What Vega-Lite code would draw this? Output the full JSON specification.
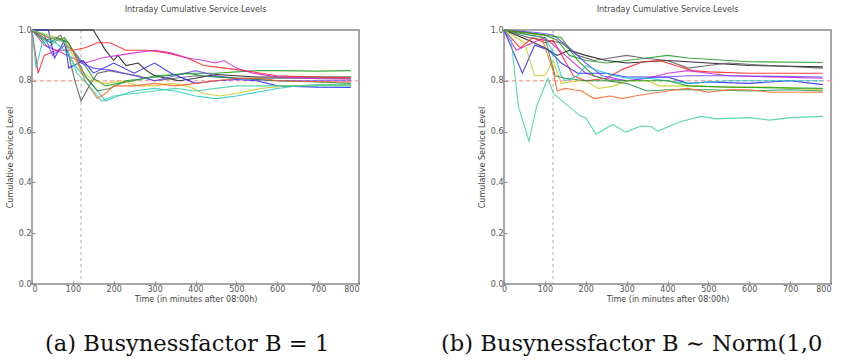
{
"$schema":"https://vega.github.io/schema/vega-lite/v6.json",
"padding":{"left":5,"top":5,"right":0,"bottom":0},
"background":"white",
"config":{
 "font":"DejaVu Sans",
 "view":{"stroke":"#8a8a8a","strokeWidth":1.5},
 "axis":{"grid":false,"domain":false,"labelFontSize":8,"titleFontSize":8,"titleFontWeight":"normal","labelColor":"#555","titleColor":"#444","tickColor":"#888","tickSize":-3,"labelPadding":4},
 "concat":{"spacing":80}
},
"datasets":{
"a":[
{"s":"a1","x":0,"y":1.0},{"s":"a1","x":20,"y":0.97},{"s":"a1","x":40,"y":0.93},{"s":"a1","x":60,"y":0.96},{"s":"a1","x":80,"y":0.97},{"s":"a1","x":100,"y":0.92},{"s":"a1","x":130,"y":0.86},{"s":"a1","x":150,"y":0.81},{"s":"a1","x":180,"y":0.78},{"s":"a1","x":210,"y":0.79},{"s":"a1","x":250,"y":0.8},{"s":"a1","x":300,"y":0.82},{"s":"a1","x":350,"y":0.825},{"s":"a1","x":400,"y":0.83},{"s":"a1","x":450,"y":0.83},{"s":"a1","x":500,"y":0.835},{"s":"a1","x":550,"y":0.84},{"s":"a1","x":600,"y":0.84},{"s":"a1","x":700,"y":0.838},{"s":"a1","x":780,"y":0.84},
{"s":"a2","x":0,"y":1.0},{"s":"a2","x":150,"y":1.0},{"s":"a2","x":180,"y":0.92},{"s":"a2","x":200,"y":0.88},{"s":"a2","x":210,"y":0.9},{"s":"a2","x":230,"y":0.86},{"s":"a2","x":260,"y":0.87},{"s":"a2","x":280,"y":0.84},{"s":"a2","x":300,"y":0.82},{"s":"a2","x":330,"y":0.81},{"s":"a2","x":360,"y":0.8},{"s":"a2","x":400,"y":0.81},{"s":"a2","x":450,"y":0.825},{"s":"a2","x":500,"y":0.82},{"s":"a2","x":550,"y":0.815},{"s":"a2","x":600,"y":0.815},{"s":"a2","x":700,"y":0.815},{"s":"a2","x":780,"y":0.815},
{"s":"a3","x":0,"y":1.0},{"s":"a3","x":20,"y":0.98},{"s":"a3","x":45,"y":0.95},{"s":"a3","x":70,"y":0.98},{"s":"a3","x":90,"y":0.9},{"s":"a3","x":105,"y":0.8},{"s":"a3","x":120,"y":0.72},{"s":"a3","x":140,"y":0.78},{"s":"a3","x":160,"y":0.83},{"s":"a3","x":190,"y":0.84},{"s":"a3","x":220,"y":0.83},{"s":"a3","x":260,"y":0.82},{"s":"a3","x":300,"y":0.8},{"s":"a3","x":350,"y":0.81},{"s":"a3","x":400,"y":0.82},{"s":"a3","x":500,"y":0.81},{"s":"a3","x":780,"y":0.81},
{"s":"a4","x":0,"y":1.0},{"s":"a4","x":15,"y":0.83},{"s":"a4","x":30,"y":0.9},{"s":"a4","x":60,"y":0.92},{"s":"a4","x":100,"y":0.92},{"s":"a4","x":130,"y":0.93},{"s":"a4","x":160,"y":0.95},{"s":"a4","x":190,"y":0.95},{"s":"a4","x":230,"y":0.92},{"s":"a4","x":280,"y":0.92},{"s":"a4","x":330,"y":0.91},{"s":"a4","x":380,"y":0.89},{"s":"a4","x":420,"y":0.86},{"s":"a4","x":470,"y":0.85},{"s":"a4","x":520,"y":0.84},{"s":"a4","x":560,"y":0.83},{"s":"a4","x":600,"y":0.82},{"s":"a4","x":700,"y":0.815},{"s":"a4","x":780,"y":0.812},
{"s":"a5","x":0,"y":1.0},{"s":"a5","x":30,"y":0.94},{"s":"a5","x":60,"y":0.92},{"s":"a5","x":100,"y":0.89},{"s":"a5","x":130,"y":0.87},{"s":"a5","x":170,"y":0.89},{"s":"a5","x":210,"y":0.9},{"s":"a5","x":250,"y":0.91},{"s":"a5","x":300,"y":0.92},{"s":"a5","x":340,"y":0.91},{"s":"a5","x":380,"y":0.89},{"s":"a5","x":420,"y":0.88},{"s":"a5","x":450,"y":0.87},{"s":"a5","x":470,"y":0.88},{"s":"a5","x":500,"y":0.85},{"s":"a5","x":540,"y":0.83},{"s":"a5","x":600,"y":0.815},{"s":"a5","x":700,"y":0.808},{"s":"a5","x":780,"y":0.806},
{"s":"a6","x":0,"y":1.0},{"s":"a6","x":40,"y":1.0},{"s":"a6","x":55,"y":0.89},{"s":"a6","x":80,"y":0.96},{"s":"a6","x":90,"y":0.85},{"s":"a6","x":125,"y":0.88},{"s":"a6","x":150,"y":0.83},{"s":"a6","x":200,"y":0.87},{"s":"a6","x":250,"y":0.83},{"s":"a6","x":300,"y":0.87},{"s":"a6","x":340,"y":0.83},{"s":"a6","x":400,"y":0.79},{"s":"a6","x":450,"y":0.8},{"s":"a6","x":500,"y":0.805},{"s":"a6","x":550,"y":0.8},{"s":"a6","x":600,"y":0.78},{"s":"a6","x":700,"y":0.775},{"s":"a6","x":780,"y":0.774},
{"s":"a7","x":0,"y":1.0},{"s":"a7","x":30,"y":0.98},{"s":"a7","x":50,"y":0.9},{"s":"a7","x":80,"y":0.94},{"s":"a7","x":100,"y":0.92},{"s":"a7","x":120,"y":0.87},{"s":"a7","x":150,"y":0.85},{"s":"a7","x":200,"y":0.84},{"s":"a7","x":250,"y":0.82},{"s":"a7","x":300,"y":0.8},{"s":"a7","x":350,"y":0.82},{"s":"a7","x":400,"y":0.84},{"s":"a7","x":450,"y":0.82},{"s":"a7","x":500,"y":0.81},{"s":"a7","x":550,"y":0.805},{"s":"a7","x":600,"y":0.8},{"s":"a7","x":780,"y":0.8},
{"s":"a8","x":0,"y":1.0},{"s":"a8","x":10,"y":0.85},{"s":"a8","x":25,"y":0.95},{"s":"a8","x":50,"y":0.96},{"s":"a8","x":80,"y":0.92},{"s":"a8","x":110,"y":0.85},{"s":"a8","x":150,"y":0.78},{"s":"a8","x":180,"y":0.72},{"s":"a8","x":210,"y":0.74},{"s":"a8","x":250,"y":0.76},{"s":"a8","x":300,"y":0.77},{"s":"a8","x":350,"y":0.76},{"s":"a8","x":400,"y":0.74},{"s":"a8","x":450,"y":0.73},{"s":"a8","x":500,"y":0.74},{"s":"a8","x":550,"y":0.755},{"s":"a8","x":600,"y":0.77},{"s":"a8","x":650,"y":0.78},{"s":"a8","x":700,"y":0.785},{"s":"a8","x":780,"y":0.785},
{"s":"a9","x":0,"y":1.0},{"s":"a9","x":40,"y":0.98},{"s":"a9","x":80,"y":0.96},{"s":"a9","x":120,"y":0.84},{"s":"a9","x":150,"y":0.8},{"s":"a9","x":180,"y":0.79},{"s":"a9","x":220,"y":0.8},{"s":"a9","x":260,"y":0.78},{"s":"a9","x":300,"y":0.78},{"s":"a9","x":340,"y":0.79},{"s":"a9","x":380,"y":0.78},{"s":"a9","x":420,"y":0.75},{"s":"a9","x":460,"y":0.74},{"s":"a9","x":500,"y":0.75},{"s":"a9","x":560,"y":0.77},{"s":"a9","x":620,"y":0.78},{"s":"a9","x":700,"y":0.782},{"s":"a9","x":780,"y":0.783},
{"s":"a10","x":0,"y":1.0},{"s":"a10","x":30,"y":0.96},{"s":"a10","x":60,"y":0.97},{"s":"a10","x":90,"y":0.95},{"s":"a10","x":130,"y":0.82},{"s":"a10","x":160,"y":0.76},{"s":"a10","x":190,"y":0.77},{"s":"a10","x":230,"y":0.8},{"s":"a10","x":280,"y":0.81},{"s":"a10","x":330,"y":0.82},{"s":"a10","x":380,"y":0.83},{"s":"a10","x":420,"y":0.82},{"s":"a10","x":500,"y":0.81},{"s":"a10","x":600,"y":0.8},{"s":"a10","x":700,"y":0.795},{"s":"a10","x":780,"y":0.79},
{"s":"a11","x":0,"y":1.0},{"s":"a11","x":40,"y":0.97},{"s":"a11","x":70,"y":0.96},{"s":"a11","x":100,"y":0.92},{"s":"a11","x":130,"y":0.8},{"s":"a11","x":160,"y":0.73},{"s":"a11","x":180,"y":0.75},{"s":"a11","x":200,"y":0.78},{"s":"a11","x":250,"y":0.78},{"s":"a11","x":300,"y":0.79},{"s":"a11","x":350,"y":0.78},{"s":"a11","x":400,"y":0.79},{"s":"a11","x":450,"y":0.8},{"s":"a11","x":500,"y":0.81},{"s":"a11","x":560,"y":0.81},{"s":"a11","x":600,"y":0.8},{"s":"a11","x":700,"y":0.796},{"s":"a11","x":780,"y":0.795},
{"s":"a12","x":0,"y":1.0},{"s":"a12","x":80,"y":0.95},{"s":"a12","x":110,"y":0.83},{"s":"a12","x":140,"y":0.78},{"s":"a12","x":170,"y":0.72},{"s":"a12","x":200,"y":0.74},{"s":"a12","x":250,"y":0.75},{"s":"a12","x":300,"y":0.76},{"s":"a12","x":350,"y":0.77},{"s":"a12","x":400,"y":0.76},{"s":"a12","x":450,"y":0.77},{"s":"a12","x":500,"y":0.78},{"s":"a12","x":600,"y":0.78},{"s":"a12","x":780,"y":0.78}
],
"b":[
{"s":"b1","x":0,"y":1.0},{"s":"b1","x":60,"y":0.99},{"s":"b1","x":100,"y":0.98},{"s":"b1","x":130,"y":0.96},{"s":"b1","x":160,"y":0.9},{"s":"b1","x":200,"y":0.88},{"s":"b1","x":250,"y":0.87},{"s":"b1","x":300,"y":0.88},{"s":"b1","x":350,"y":0.89},{"s":"b1","x":400,"y":0.9},{"s":"b1","x":450,"y":0.89},{"s":"b1","x":500,"y":0.885},{"s":"b1","x":550,"y":0.88},{"s":"b1","x":600,"y":0.875},{"s":"b1","x":780,"y":0.872},
{"s":"b2","x":0,"y":1.0},{"s":"b2","x":60,"y":0.96},{"s":"b2","x":100,"y":0.93},{"s":"b2","x":130,"y":0.9},{"s":"b2","x":160,"y":0.92},{"s":"b2","x":200,"y":0.9},{"s":"b2","x":250,"y":0.88},{"s":"b2","x":300,"y":0.87},{"s":"b2","x":350,"y":0.875},{"s":"b2","x":400,"y":0.88},{"s":"b2","x":450,"y":0.875},{"s":"b2","x":500,"y":0.87},{"s":"b2","x":600,"y":0.86},{"s":"b2","x":780,"y":0.855},
{"s":"b3","x":0,"y":1.0},{"s":"b3","x":60,"y":0.97},{"s":"b3","x":100,"y":0.96},{"s":"b3","x":140,"y":0.95},{"s":"b3","x":180,"y":0.9},{"s":"b3","x":220,"y":0.88},{"s":"b3","x":260,"y":0.89},{"s":"b3","x":300,"y":0.9},{"s":"b3","x":340,"y":0.89},{"s":"b3","x":400,"y":0.88},{"s":"b3","x":450,"y":0.85},{"s":"b3","x":500,"y":0.86},{"s":"b3","x":550,"y":0.87},{"s":"b3","x":650,"y":0.86},{"s":"b3","x":780,"y":0.85},
{"s":"b4","x":0,"y":1.0},{"s":"b4","x":40,"y":0.93},{"s":"b4","x":70,"y":0.97},{"s":"b4","x":100,"y":0.95},{"s":"b4","x":120,"y":0.96},{"s":"b4","x":170,"y":0.82},{"s":"b4","x":200,"y":0.8},{"s":"b4","x":250,"y":0.81},{"s":"b4","x":290,"y":0.845},{"s":"b4","x":340,"y":0.875},{"s":"b4","x":380,"y":0.88},{"s":"b4","x":420,"y":0.86},{"s":"b4","x":460,"y":0.84},{"s":"b4","x":500,"y":0.835},{"s":"b4","x":600,"y":0.83},{"s":"b4","x":780,"y":0.83},
{"s":"b5","x":0,"y":1.0},{"s":"b5","x":30,"y":0.92},{"s":"b5","x":70,"y":0.95},{"s":"b5","x":100,"y":0.97},{"s":"b5","x":150,"y":0.9},{"s":"b5","x":200,"y":0.83},{"s":"b5","x":240,"y":0.81},{"s":"b5","x":300,"y":0.8},{"s":"b5","x":350,"y":0.81},{"s":"b5","x":400,"y":0.83},{"s":"b5","x":450,"y":0.84},{"s":"b5","x":500,"y":0.83},{"s":"b5","x":550,"y":0.82},{"s":"b5","x":780,"y":0.81},
{"s":"b6","x":0,"y":1.0},{"s":"b6","x":45,"y":0.83},{"s":"b6","x":75,"y":0.94},{"s":"b6","x":110,"y":0.92},{"s":"b6","x":140,"y":0.87},{"s":"b6","x":160,"y":0.85},{"s":"b6","x":180,"y":0.83},{"s":"b6","x":250,"y":0.83},{"s":"b6","x":300,"y":0.815},{"s":"b6","x":400,"y":0.815},{"s":"b6","x":450,"y":0.79},{"s":"b6","x":500,"y":0.795},{"s":"b6","x":600,"y":0.79},{"s":"b6","x":700,"y":0.8},{"s":"b6","x":780,"y":0.785},
{"s":"b7","x":0,"y":1.0},{"s":"b7","x":80,"y":0.99},{"s":"b7","x":120,"y":0.98},{"s":"b7","x":160,"y":0.93},{"s":"b7","x":200,"y":0.87},{"s":"b7","x":240,"y":0.82},{"s":"b7","x":300,"y":0.8},{"s":"b7","x":350,"y":0.81},{"s":"b7","x":450,"y":0.82},{"s":"b7","x":550,"y":0.82},{"s":"b7","x":780,"y":0.815},
{"s":"b8","x":0,"y":1.0},{"s":"b8","x":100,"y":0.97},{"s":"b8","x":125,"y":0.9},{"s":"b8","x":140,"y":0.82},{"s":"b8","x":150,"y":0.8},{"s":"b8","x":180,"y":0.82},{"s":"b8","x":200,"y":0.86},{"s":"b8","x":230,"y":0.84},{"s":"b8","x":270,"y":0.82},{"s":"b8","x":300,"y":0.81},{"s":"b8","x":350,"y":0.81},{"s":"b8","x":400,"y":0.8},{"s":"b8","x":450,"y":0.79},{"s":"b8","x":550,"y":0.8},{"s":"b8","x":780,"y":0.8},
{"s":"b9","x":0,"y":1.0},{"s":"b9","x":50,"y":0.95},{"s":"b9","x":75,"y":0.82},{"s":"b9","x":100,"y":0.82},{"s":"b9","x":120,"y":0.88},{"s":"b9","x":140,"y":0.79},{"s":"b9","x":180,"y":0.8},{"s":"b9","x":200,"y":0.8},{"s":"b9","x":230,"y":0.77},{"s":"b9","x":270,"y":0.78},{"s":"b9","x":300,"y":0.8},{"s":"b9","x":350,"y":0.8},{"s":"b9","x":380,"y":0.78},{"s":"b9","x":450,"y":0.78},{"s":"b9","x":550,"y":0.775},{"s":"b9","x":650,"y":0.775},{"s":"b9","x":780,"y":0.765},
{"s":"b10","x":0,"y":1.0},{"s":"b10","x":60,"y":0.98},{"s":"b10","x":100,"y":0.97},{"s":"b10","x":125,"y":0.82},{"s":"b10","x":150,"y":0.81},{"s":"b10","x":200,"y":0.8},{"s":"b10","x":250,"y":0.8},{"s":"b10","x":300,"y":0.79},{"s":"b10","x":350,"y":0.76},{"s":"b10","x":400,"y":0.765},{"s":"b10","x":500,"y":0.765},{"s":"b10","x":600,"y":0.76},{"s":"b10","x":700,"y":0.765},{"s":"b10","x":780,"y":0.76},
{"s":"b11","x":0,"y":1.0},{"s":"b11","x":90,"y":0.98},{"s":"b11","x":120,"y":0.84},{"s":"b11","x":130,"y":0.76},{"s":"b11","x":150,"y":0.77},{"s":"b11","x":170,"y":0.765},{"s":"b11","x":190,"y":0.76},{"s":"b11","x":220,"y":0.73},{"s":"b11","x":260,"y":0.74},{"s":"b11","x":290,"y":0.73},{"s":"b11","x":320,"y":0.74},{"s":"b11","x":360,"y":0.75},{"s":"b11","x":420,"y":0.765},{"s":"b11","x":450,"y":0.77},{"s":"b11","x":500,"y":0.755},{"s":"b11","x":550,"y":0.765},{"s":"b11","x":600,"y":0.765},{"s":"b11","x":650,"y":0.755},{"s":"b11","x":780,"y":0.755},
{"s":"b12","x":0,"y":1.0},{"s":"b12","x":17,"y":0.97},{"s":"b12","x":35,"y":0.7},{"s":"b12","x":61,"y":0.563},{"s":"b12","x":80,"y":0.7},{"s":"b12","x":107,"y":0.81},{"s":"b12","x":122,"y":0.748},{"s":"b12","x":150,"y":0.71},{"s":"b12","x":188,"y":0.66},{"s":"b12","x":200,"y":0.655},{"s":"b12","x":225,"y":0.59},{"s":"b12","x":266,"y":0.628},{"s":"b12","x":298,"y":0.598},{"s":"b12","x":335,"y":0.622},{"s":"b12","x":360,"y":0.62},{"s":"b12","x":376,"y":0.602},{"s":"b12","x":433,"y":0.64},{"s":"b12","x":482,"y":0.66},{"s":"b12","x":520,"y":0.65},{"s":"b12","x":600,"y":0.655},{"s":"b12","x":650,"y":0.645},{"s":"b12","x":700,"y":0.655},{"s":"b12","x":780,"y":0.66},
{"s":"b13","x":0,"y":1.0},{"s":"b13","x":100,"y":0.98},{"s":"b13","x":140,"y":0.97},{"s":"b13","x":180,"y":0.88},{"s":"b13","x":220,"y":0.82},{"s":"b13","x":260,"y":0.8},{"s":"b13","x":320,"y":0.8},{"s":"b13","x":400,"y":0.8},{"s":"b13","x":450,"y":0.78},{"s":"b13","x":550,"y":0.775},{"s":"b13","x":780,"y":0.77}
]
},
"hconcat":[
{
 "title":{"text":"(a) Busynessfactor B = 1","orient":"bottom","anchor":"start","font":"DejaVu Serif","fontSize":22.6,"fontWeight":"normal","color":"#111","frame":"group","offset":29,"dx":13},
 "vconcat":[{
  "width":327,"height":254,
  "title":{"text":"Intraday Cumulative Service Levels","fontSize":8,"fontWeight":"normal","color":"#444","offset":12},
  "layer":[
   {"data":{"values":[{"y":0.8}]},"mark":{"type":"rule","strokeDash":[4,3],"color":"#ff8080","strokeWidth":1},"encoding":{"y":{"field":"y","type":"quantitative","scale":{"domain":[0,1]}}}},
   {"data":{"values":[{"x":120}]},"mark":{"type":"rule","strokeDash":[3,3],"color":"#999999","strokeWidth":0.8},"encoding":{"x":{"field":"x","type":"quantitative","scale":{"domain":[0,800]}}}},
   {"data":{"name":"a"},"mark":{"type":"line","strokeWidth":1.1,"opacity":0.85},
    "encoding":{
     "x":{"field":"x","type":"quantitative","scale":{"domain":[0,800],"nice":false},"axis":{"title":"Time (in minutes after 08:00h)","values":[0,100,200,300,400,500,600,700,800],"titlePadding":2}},
     "y":{"field":"y","type":"quantitative","scale":{"domain":[0,1],"nice":false},"axis":{"title":"Cumulative Service Level","values":[0,0.2,0.4,0.6,0.8,1.0],"format":".1f","titlePadding":4}},
     "color":{"field":"s","type":"nominal","legend":null,"scale":{"domain":["a1","a2","a3","a4","a5","a6","a7","a8","a9","a10","a11","a12"],"range":["#1a9a1a","#111111","#555555","#ff2020","#d020d0","#2020ff","#6a40ff","#20c8c8","#c8c820","#208a40","#ff6020","#40d0a0"]}}
    }}
  ]
 }]
},
{
 "title":{"text":"(b) Busynessfactor B ∼ Norm(1,0","orient":"bottom","anchor":"start","font":"DejaVu Serif","fontSize":22.6,"fontWeight":"normal","color":"#111","frame":"group","offset":29,"dx":-63},
 "vconcat":[{
  "width":327,"height":254,
  "title":{"text":"Intraday Cumulative Service Levels","fontSize":8,"fontWeight":"normal","color":"#444","offset":12},
  "layer":[
   {"data":{"values":[{"y":0.8}]},"mark":{"type":"rule","strokeDash":[4,3],"color":"#ff8080","strokeWidth":1},"encoding":{"y":{"field":"y","type":"quantitative","scale":{"domain":[0,1]}}}},
   {"data":{"values":[{"x":120}]},"mark":{"type":"rule","strokeDash":[3,3],"color":"#999999","strokeWidth":0.8},"encoding":{"x":{"field":"x","type":"quantitative","scale":{"domain":[0,800]}}}},
   {"data":{"name":"b"},"mark":{"type":"line","strokeWidth":1.1,"opacity":0.85},
    "encoding":{
     "x":{"field":"x","type":"quantitative","scale":{"domain":[0,800],"nice":false},"axis":{"title":"Time (in minutes after 08:00h)","values":[0,100,200,300,400,500,600,700,800],"titlePadding":2,"labelAlign":{"condition":{"test":"datum.value == 800","value":"right"},"value":"center"}}},
     "y":{"field":"y","type":"quantitative","scale":{"domain":[0,1],"nice":false},"axis":{"title":"Cumulative Service Level","values":[0,0.2,0.4,0.6,0.8,1.0],"format":".1f","titlePadding":4}},
     "color":{"field":"s","type":"nominal","legend":null,"scale":{"domain":["b1","b2","b3","b4","b5","b6","b7","b8","b9","b10","b11","b12","b13"],"range":["#3030ff","#20c8c8","#1a9a4a","#ff3030","#d020d0","#222222","#4040e0","#444444","#c8c820","#ff8020","#ff4060","#3a9a3a","#a0c040"]}}
    }}
  ]
 }]
}
]
}
